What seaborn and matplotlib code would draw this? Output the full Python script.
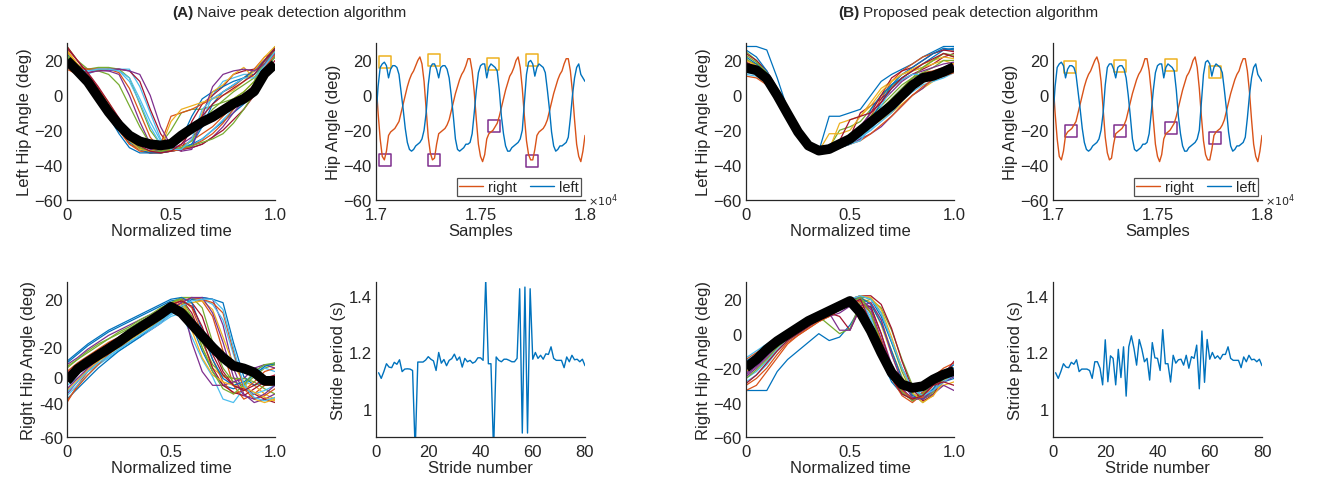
import numpy as np
import pandas as pd
import seaborn as sns
import matplotlib.pyplot as plt

# ---------------- data ----------------
# normalized time grid for the per-stride curves (21 points)
t_norm = np.linspace(0, 1, 21)

# (A) naive, left hip: stride curves + mean
naive_left = [
    [22, 16, 10, 2, -8, -18, -27, -31, -32, -32, -31, -30, -28, -25, -20, -15, -10, -5, 2, 15, 22],
    [25, 18, 10, 0, -10, -20, -28, -32, -33, -32, -31, -29, -26, -22, -18, -12, -6, 0, 6, 18, 26],
    [18, 14, 8, 0, -8, -16, -24, -30, -32, -32, -30, -26, -20, -15, -10, -6, -2, 2, 8, 20, 24],
    [20, 16, 15, 15, 14, 12, 0, -15, -28, -31, -32, -31, -30, -28, -24, -18, -10, -3, 4, 18, 27],
    [28, 20, 15, 16, 16, 15, 10, -5, -20, -28, -20, -10, -8, -8, -6, -4, -2, 2, 8, 20, 28],
    [16, 14, 12, 15, 15, 15, 15, 5, -10, -25, -30, -30, -28, -15, 0, 8, 10, 12, 12, 18, 22],
    [20, 15, 13, 14, 15, 15, 14, 8, -8, -22, -30, -32, -15, -5, 0, 5, 12, 14, 15, 20, 26],
    [24, 16, 8, -2, -12, -22, -30, -33, -33, -32, -30, -25, -12, -2, 2, 5, 8, 10, 12, 18, 25],
    [15, 12, 6, -2, -10, -20, -28, -31, -32, -28, -12, -10, -8, -5, -2, 2, 5, 10, 15, 22, 25],
    [26, 18, 12, 4, -4, -14, -24, -30, -33, -33, -32, -30, -26, -10, 2, 6, 12, 16, 10, 18, 24],
    [19, 14, 9, 2, -6, -14, -22, -28, -31, -32, -31, -28, -24, -18, -12, -8, -4, 0, 6, 16, 22],
    [22, 17, 15, 14, 12, 6, -6, -18, -28, -32, -32, -30, -26, -16, -8, -3, 2, 6, 10, 18, 25],
    [17, 15, 14, 15, 15, 14, 8, -4, -18, -28, -31, -31, -29, -25, -20, -14, -8, -2, 5, 15, 22],
    [27, 20, 12, 4, -6, -16, -25, -31, -33, -33, -32, -31, -30, -28, -24, -20, -14, -8, 0, 12, 20],
    [21, 15, 9, 1, -8, -17, -26, -31, -33, -33, -32, -31, -28, -18, -5, 2, 6, 10, 14, 20, 27],
    [18, 16, 15, 15, 15, 13, 4, -10, -24, -31, -32, -31, -29, -26, -22, -16, -8, -2, 6, 16, 23],
    [25, 17, 10, 2, -7, -17, -26, -31, -32, -30, -15, -8, -6, -4, -2, 0, 3, 8, 14, 22, 28],
    [16, 14, 13, 14, 14, 15, 14, 12, 0, -18, -29, -32, -31, -12, 5, 12, 14, 15, 14, 18, 24],
    [23, 17, 11, 3, -6, -15, -24, -30, -32, -32, -31, -30, -29, -27, -25, -22, -16, -8, 1, 14, 22],
    [19, 15, 14, 15, 15, 14, 10, -2, -15, -26, -31, -31, -25, -8, -2, 2, 6, 10, 10, 17, 25],
    [28, 20, 13, 5, -4, -13, -22, -29, -32, -33, -32, -28, -20, -12, -5, 0, 4, 8, 12, 20, 27],
]
naive_left_mean = [20, 14, 7.7, -1, -9.6, -17, -23, -26.4, -28, -28.7, -27.8, -23, -19,
                   -15.3, -12.4, -8.6, -4.8, -2, 2.3, 12.4, 18]

# (A) naive, right hip
naive_right = [
    [-17, -12, -7, -3, 1, 4, 7, 10, 13, 16, 19, 20, 5, -10, -22, -30, -32, -30, -22, -18, -18],
    [-40, -30, -22, -16, -10, -5, -1, 3, 7, 12, 17, 20, 20, 19, 10, -10, -30, -38, -35, -30, -30],
    [-25, -20, -16, -12, -8, -4, 0, 4, 8, 12, 16, 19, 8, -8, -20, -25, -26, -28, -30, -35, -38],
    [-35, -28, -20, -15, -11, -8, -5, -2, 2, 6, 12, 15, 20, 21, 20, 5, -20, -35, -40, -38, -35],
    [-20, -15, -10, -6, -3, 0, 3, 7, 10, 14, 18, 21, 21, 15, -5, -20, -28, -30, -25, -20, -18],
    [-30, -26, -22, -18, -14, -10, -6, -2, 2, 6, 10, 12, -2, -15, -25, -38, -40, -32, -22, -20, -22],
    [-28, -22, -17, -13, -9, -5, -1, 3, 7, 11, 15, 18, 18, 10, -8, -22, -30, -32, -35, -38, -40],
    [-38, -32, -26, -20, -15, -10, -6, -2, 3, 8, 12, 16, 20, 21, 20, 18, -5, -25, -30, -28, -25],
    [-22, -17, -13, -9, -5, -2, 2, 5, 9, 13, 17, 20, 15, 0, -15, -28, -35, -33, -28, -22, -20],
    [-33, -27, -21, -16, -12, -8, -4, 0, 4, 8, 13, 17, 18, 19, 14, -2, -18, -28, -38, -40, -38],
    [-18, -14, -9, -5, -1, 2, 5, 8, 11, 14, 17, 19, -5, -22, -30, -30, -28, -26, -20, -18, -20],
    [-26, -22, -18, -13, -9, -6, -3, 1, 5, 9, 13, 16, 10, -5, -18, -24, -26, -26, -28, -32, -35],
    [-36, -30, -24, -18, -13, -9, -5, -1, 3, 7, 11, 14, 21, 20, 17, 8, -12, -30, -35, -33, -30],
    [-24, -19, -14, -10, -6, -3, 1, 5, 8, 12, 16, 20, 12, -3, -20, -30, -34, -36, -32, -28, -26],
    [-16, -11, -6, -2, 2, 5, 8, 11, 14, 17, 20, 21, 18, 2, -15, -26, -30, -28, -24, -19, -17],
    [-39, -31, -24, -18, -12, -7, -3, 1, 5, 10, 14, 18, 21, 20, 18, 12, -10, -32, -38, -36, -32],
    [-27, -21, -16, -11, -7, -3, 1, 5, 9, 13, 17, 20, 2, -14, -24, -28, -30, -31, -34, -37, -39],
    [-32, -26, -20, -15, -11, -7, -3, 1, 5, 9, 14, 18, 21, 21, 12, -5, -25, -36, -38, -35, -30],
    [-19, -15, -11, -7, -3, 1, 4, 8, 11, 15, 18, 20, 10, -8, -22, -32, -35, -30, -22, -18, -17],
    [-34, -28, -22, -17, -13, -9, -5, -1, 3, 7, 12, 16, 19, 20, 20, 14, -8, -30, -37, -39, -37],
    [-23, -18, -14, -10, -6, -2, 2, 6, 10, 14, 17, 19, 16, 4, -12, -24, -30, -33, -30, -26, -24],
]
naive_right_mean = [-27.4, -20.6, -16.4, -12.5, -8.7, -4.8, -0.4, 3.5, 7.3, 11.2, 15.6, 12.1,
                    5.4, -1.3, -8, -13.9, -18.7, -20.2, -22.5, -27.4, -27.4]

# (B) proposed, left hip
prop_left = [
    [28, 28, 26, 10, -8, -22, -30, -32, -12, -12, -10, -8, 0, 8, 12, 15, 18, 22, 25, 28, 28],
    [20, 18, 12, 2, -8, -20, -28, -32, -31, -28, -25, -20, -12, -2, 8, 14, 18, 22, 24, 26, 26],
    [14, 13, 9, 0, -11, -22, -29, -32, -31, -28, -26, -22, -18, -14, -10, -5, 0, 4, 8, 12, 14],
    [17, 15, 10, 1, -10, -21, -29, -32, -30, -28, -25, -20, -15, -10, -6, -1, 5, 10, 13, 15, 17],
    [25, 20, 12, 2, -9, -20, -27, -31, -30, -20, -18, -15, -8, 0, 5, 10, 14, 16, 20, 24, 22],
    [12, 11, 7, -1, -12, -23, -30, -33, -31, -29, -27, -24, -20, -15, -10, -3, 2, 6, 8, 10, 13],
    [18, 16, 11, 1, -10, -21, -29, -32, -31, -29, -24, -10, -6, -2, 4, 9, 12, 15, 18, 22, 24],
    [22, 18, 13, 3, -8, -19, -28, -32, -32, -30, -28, -25, -8, 0, 6, 10, 14, 18, 22, 26, 27],
    [16, 14, 10, 0, -11, -22, -30, -33, -32, -30, -27, -22, -16, -8, -2, 4, 10, 13, 14, 16, 18],
    [15, 15, 12, 2, -8, -20, -28, -32, -22, -22, -20, -12, -4, 4, 8, 12, 14, 16, 18, 20, 18],
    [19, 16, 10, -1, -12, -23, -30, -33, -32, -30, -28, -25, -22, -18, -12, -6, 0, 4, 10, 14, 16],
    [21, 17, 11, 1, -10, -21, -29, -32, -31, -28, -24, -18, -12, -6, 0, 6, 10, 13, 16, 20, 20],
    [13, 12, 8, -1, -12, -22, -29, -32, -31, -30, -28, -24, -20, -12, -2, 4, 8, 10, 12, 14, 15],
    [24, 20, 14, 4, -7, -18, -27, -31, -31, -29, -25, -18, -10, 0, 10, 14, 16, 20, 24, 26, 25],
    [26, 22, 14, 3, -8, -19, -28, -32, -31, -29, -27, -22, -14, -4, 6, 12, 16, 20, 24, 27, 26],
    [11, 10, 6, -2, -13, -24, -30, -33, -32, -30, -28, -26, -22, -17, -12, -6, 0, 5, 9, 11, 13],
    [20, 17, 12, 2, -9, -20, -28, -32, -31, -16, -14, -12, -6, 2, 8, 12, 15, 18, 20, 22, 21],
    [17, 14, 9, 0, -11, -22, -29, -33, -32, -30, -26, -18, -10, -4, 2, 8, 12, 14, 16, 18, 19],
    [23, 19, 13, 3, -8, -19, -28, -32, -31, -29, -26, -20, -14, -8, -2, 4, 10, 16, 20, 24, 23],
    [14, 13, 9, 0, -11, -22, -29, -32, -32, -30, -28, -26, -18, -6, 4, 9, 12, 12, 13, 14, 15],
    [19, 16, 11, 1, -10, -21, -29, -32, -31, -26, -14, -12, -10, -4, 4, 10, 14, 18, 21, 24, 22],
]
prop_left_mean = [15.8, 14.4, 9.6, 0, -10.6, -21, -28.8, -31.7, -30.8, -27.9, -25, -20.2,
                  -15.4, -10.6, -5.8, 0, 5.8, 10, 11.2, 13.5, 16.3]

# (B) proposed, right hip
prop_right = [
    [-33, -33, -33, -22, -15, -10, -5, 0, -4, -2, 5, 15, 0, -15, -28, -35, -38, -34, -30, -28, -26],
    [-15, -11, -7, -3, 1, 4, 7, 10, 13, 17, 20, 22, 12, -5, -22, -33, -38, -34, -25, -20, -17],
    [-22, -18, -12, -6, -2, 2, 6, 9, 12, 15, 18, 20, 18, 8, -10, -25, -35, -38, -32, -25, -22],
    [-25, -20, -14, -8, -3, 1, 5, 8, 10, 12, 16, 20, 15, 0, -18, -32, -39, -36, -30, -26, -23],
    [-18, -14, -9, -5, -1, 3, 6, 9, 12, 15, 18, 21, 21, 12, -5, -22, -35, -40, -35, -28, -20],
    [-28, -24, -18, -10, -4, 0, 4, 8, 11, 14, 17, 20, 8, -10, -25, -35, -36, -33, -30, -27, -25],
    [-20, -16, -10, -5, -1, 3, 7, 10, 12, 10, 2, 15, 16, 0, -20, -32, -38, -35, -28, -24, -21],
    [-16, -12, -8, -4, 0, 4, 8, 11, 14, 17, 20, 22, 20, 10, -5, -20, -32, -36, -30, -22, -18],
    [-30, -26, -20, -12, -5, -1, 3, 7, 10, 14, 17, 18, 2, -12, -26, -36, -40, -35, -26, -22, -20],
    [-21, -17, -11, -6, -2, 2, 6, 9, 13, 16, 19, 21, 18, 5, -12, -28, -36, -37, -33, -30, -28],
    [-24, -19, -13, -7, -3, 1, 5, 8, 11, 14, 17, 20, 14, -3, -20, -32, -38, -38, -35, -30, -33],
    [-19, -15, -10, -5, -1, 3, 7, 10, 5, 0, 3, 18, 20, 15, 2, -15, -30, -38, -34, -26, -22],
    [-26, -22, -16, -9, -4, 0, 4, 8, 11, 14, 17, 19, 10, -6, -24, -34, -38, -37, -32, -28, -24],
    [-17, -13, -8, -4, 0, 4, 7, 11, 14, 17, 19, 22, 22, 17, 3, -16, -32, -39, -36, -24, -16],
    [-20, -16, -10, -5, -1, 3, 7, 10, 13, 16, 19, 21, 17, 6, -10, -26, -36, -38, -32, -24, -20],
    [-33, -30, -22, -14, -6, -1, 3, 7, 10, 14, 17, 19, 12, -4, -22, -33, -38, -37, -30, -26, -22],
    [-17, -13, -8, -4, 0, 4, 7, 11, 14, 17, 20, 22, 21, 14, -2, -20, -34, -40, -36, -28, -22],
    [-23, -18, -12, -6, -2, 2, 6, 9, 12, 2, 2, 16, 18, 8, -12, -28, -37, -38, -33, -28, -25],
    [-26, -21, -15, -8, -3, 1, 5, 8, 11, 14, 18, 21, 12, -6, -23, -34, -39, -35, -28, -24, -22],
    [-14, -10, -6, -2, 2, 5, 8, 11, 14, 17, 20, 22, 20, 12, -4, -20, -32, -36, -33, -28, -24],
    [-29, -24, -17, -10, -4, 0, 4, 8, 11, 14, 17, 20, 6, -12, -26, -35, -38, -36, -30, -28, -30],
]
prop_right_mean = [-19.8, -15, -9.1, -4.3, -0.4, 3.5, 7.4, 10.3, 13.2, 16.1, 19, 12.2, 1.6,
                   -11.1, -22.7, -29.5, -31.5, -30.5, -26.6, -23.7, -21.7]

# raw hip angle signals, one value every 10 samples from 17000 to 18000
samples = np.arange(17000, 18001, 10)
right_hip = [9, -10, -25, -35, -37, -32, -23, -21, -20, -19,
             -17, -15, -10, -5, 0, 5, 9, 12, 14, 17,
             20, 22, 18, 8, -8, -24, -33, -37, -36, -28,
             -22, -21, -20, -19, -17, -14, -9, -4, 1, 5,
             9, 12, 14, 17, 21, 21, 14, 2, -14, -28,
             -35, -38, -34, -25, -22, -21, -20, -18, -16, -12,
             -7, -2, 3, 7, 11, 13, 16, 20, 22, 16,
             4, -12, -26, -34, -37, -37, -31, -23, -21, -20,
             -19, -17, -14, -9, -4, 1, 5, 9, 12, 14,
             18, 21, 21, 14, 2, -14, -28, -35, -38, -32,
             -23]
left_hip = [-12, 5, 16, 18, 19, 17, 10, 15, 17, 17,
            16, 12, 2, -8, -19, -27, -31, -32, -31, -29,
            -28, -27, -25, -20, -10, 6, 16, 18, 18, 15,
            10, 16, 17, 17, 15, 10, 0, -12, -25, -31,
            -32, -31, -30, -28, -28, -27, -22, -10, 3, 13,
            17, 18, 18, 10, 16, 18, 17, 16, 14, 3,
            -12, -22, -29, -32, -32, -30, -29, -28, -27, -25,
            -20, -4, 12, 19, 20, 18, 11, 16, 18, 17,
            16, 13, 3, -8, -21, -29, -32, -31, -29, -29,
            -28, -27, -24, -13, 0, 10, 16, 18, 12, 10,
            8]

# detected peaks (yellow) and valleys (purple)
naive_peak_x = [17042, 17278, 17562, 17746]
naive_peak_y = [19, 20, 18, 20]
naive_valley_x = [17043, 17278, 17565, 17747]
naive_valley_y = [-37, -37, -17.5, -37.7]
prop_peak_x = [17083, 17319, 17563, 17777]
prop_peak_y = [16, 17, 17.5, 13.3]
prop_valley_x = [17085, 17319, 17563, 17777]
prop_valley_y = [-20.6, -20.4, -18.6, -24.4]

# stride periods (s), strides 1..80
stride_num = np.arange(1, 81)
naive_period = [1.128, 1.108, 1.132, 1.16, 1.148, 1.146, 1.165, 1.158, 1.174, 1.132,
                1.141, 1.142, 1.141, 1.136, 0.85, 1.166, 1.166, 1.166, 1.173, 1.185,
                1.176, 1.17, 1.136, 1.2, 1.162, 1.175, 1.153, 1.172, 1.178, 1.194,
                1.172, 1.184, 1.148, 1.179, 1.167, 1.172, 1.162, 1.167, 1.181, 1.181,
                1.172, 1.46, 1.16, 1.16, 0.85, 1.184, 1.172, 1.167, 1.176, 1.176,
                1.172, 1.167, 1.167, 1.179, 1.426, 0.914, 1.432, 0.914, 1.426, 1.176,
                1.2, 1.179, 1.19, 1.176, 1.195, 1.193, 1.22, 1.179, 1.172, 1.172,
                1.172, 1.146, 1.184, 1.167, 1.19, 1.174, 1.176, 1.167, 1.176, 1.153]
prop_period = [1.128, 1.108, 1.132, 1.16, 1.148, 1.146, 1.165, 1.158, 1.174, 1.132,
               1.141, 1.141, 1.141, 1.136, 1.108, 1.167, 1.167, 1.144, 1.085, 1.245,
               1.096, 1.188, 1.179, 1.085, 1.211, 1.111, 1.22, 1.045, 1.22, 1.259,
               1.214, 1.155, 1.246, 1.212, 1.167, 1.179, 1.102, 1.235, 1.181, 1.179,
               1.136, 1.281, 1.16, 1.16, 1.095, 1.19, 1.162, 1.174, 1.176, 1.155,
               1.19, 1.144, 1.185, 1.179, 1.226, 1.071, 1.276, 1.094, 1.246, 1.176,
               1.2, 1.179, 1.188, 1.176, 1.193, 1.193, 1.22, 1.179, 1.172, 1.172,
               1.172, 1.146, 1.184, 1.167, 1.19, 1.174, 1.176, 1.167, 1.176, 1.153]

# ---------------- styling ----------------
matlab_colors = ['#0072BD', '#D95319', '#EDB120', '#7E2F8E', '#77AC30', '#4DBEEE', '#A2142F']
ink = '#262626'

sns.set_style("white")
plt.rcParams['font.family'] = ['Liberation Sans', 'DejaVu Sans']
plt.rcParams['xtick.direction'] = 'in'
plt.rcParams['ytick.direction'] = 'in'
plt.rcParams['axes.edgecolor'] = ink
plt.rcParams['text.color'] = ink

W, H = 1317, 489
fig = plt.figure(figsize=(W / 100, H / 100), dpi=100)


def add_ax(x0, y_top, x1, y_bot):
    return fig.add_axes([x0 / W, 1 - y_bot / H, (x1 - x0) / W, (y_bot - y_top) / H])


def style_ax(ax, xlabel, ylabel):
    sns.despine(ax=ax)
    ax.set_xlabel(xlabel, fontsize=12, color=ink, labelpad=1)
    ax.set_ylabel(ylabel, fontsize=12, color=ink, labelpad=2)
    ax.tick_params(labelsize=12, colors=ink, length=3, width=0.8)
    ax.tick_params(axis='x', pad=5)
    ax.tick_params(axis='y', pad=3)
    for s in ax.spines.values():
        s.set_linewidth(0.9)


def stride_panel(ax, curves, mean, ylabel):
    for i, c in enumerate(curves):
        sns.lineplot(x=t_norm, y=c, ax=ax, color=matlab_colors[i % 7], linewidth=0.9)
    sns.lineplot(x=t_norm, y=mean, ax=ax, color='black', linewidth=7, solid_capstyle='butt')
    ax.set_xlim(0, 1)
    ax.set_ylim(-60, 30)
    ax.set_xticks([0, 0.5, 1.0])
    ax.set_xticklabels(['0', '0.5', '1.0'])
    ax.set_yticks([-60, -40, -20, 0, 20])
    style_ax(ax, 'Normalized time', ylabel)


def signal_panel(ax, px, py, vx, vy):
    df = pd.DataFrame({'sample': np.concatenate([samples, samples]),
                       'angle': right_hip + left_hip,
                       'side': ['right'] * len(samples) + ['left'] * len(samples)})
    sns.lineplot(data=df, x='sample', y='angle', hue='side', ax=ax,
                 palette={'right': '#D95319', 'left': '#0072BD'}, linewidth=1.0, legend=False)
    sns.scatterplot(x=px, y=py, ax=ax, marker='s', s=75, facecolor='none',
                    edgecolor='#EDB120', linewidth=1.1)
    sns.scatterplot(x=vx, y=vy, ax=ax, marker='s', s=75, facecolor='none',
                    edgecolor='#7E2F8E', linewidth=1.1)
    ax.set_xlim(17000, 18000)
    ax.set_ylim(-60, 30)
    ax.set_xticks([17000, 17500, 18000])
    ax.set_xticklabels(['1.7', '1.75', '1.8'])
    ax.set_yticks([-60, -40, -20, 0, 20])
    style_ax(ax, 'Samples', 'Hip Angle (deg)')
    ax.text(1.015, 0.0, r'$\times10^4$', transform=ax.transAxes, fontsize=8,
            color=ink, ha='left', va='center')
    handles = [plt.Line2D([], [], color='#D95319', lw=1.0),
               plt.Line2D([], [], color='#0072BD', lw=1.0)]
    leg = ax.legend(handles, ['right', 'left'], ncol=2, loc='lower right', fontsize=10.5,
                    frameon=True, fancybox=False, edgecolor=ink, borderaxespad=0.25,
                    borderpad=0.15, handlelength=1.6, columnspacing=0.9, handletextpad=0.4)
    leg.get_frame().set_linewidth(0.9)


def period_panel(ax, vals):
    sns.lineplot(x=stride_num, y=vals, ax=ax, color='#0072BD', linewidth=1.0)
    ax.set_xlim(0, 80)
    ax.set_ylim(0.9, 1.45)
    ax.set_xticks([0, 20, 40, 60, 80])
    ax.set_yticks([1.0, 1.2, 1.4])
    ax.set_yticklabels(['1', '1.2', '1.4'])
    style_ax(ax, 'Stride number', 'Stride period (s)')


cols = [(67, 275), (376, 585), (746, 954), (1053, 1262)]
top_row = (44, 201)
bot_row = (283, 438)

ax_a1 = add_ax(cols[0][0], top_row[0], cols[0][1], top_row[1])
ax_a2 = add_ax(cols[1][0], top_row[0], cols[1][1], top_row[1])
ax_a3 = add_ax(cols[0][0], bot_row[0], cols[0][1], bot_row[1])
ax_a4 = add_ax(cols[1][0], bot_row[0], cols[1][1], bot_row[1])
ax_b1 = add_ax(cols[2][0], top_row[0], cols[2][1], top_row[1])
ax_b2 = add_ax(cols[3][0], top_row[0], cols[3][1], top_row[1])
ax_b3 = add_ax(cols[2][0], bot_row[0], cols[2][1], bot_row[1])
ax_b4 = add_ax(cols[3][0], bot_row[0], cols[3][1], bot_row[1])

stride_panel(ax_a1, naive_left, naive_left_mean, 'Left Hip Angle (deg)')
signal_panel(ax_a2, naive_peak_x, naive_peak_y, naive_valley_x, naive_valley_y)
stride_panel(ax_a3, naive_right, naive_right_mean, 'Right Hip Angle (deg)')
period_panel(ax_a4, naive_period)
stride_panel(ax_b1, prop_left, prop_left_mean, 'Left Hip Angle (deg)')
signal_panel(ax_b2, prop_peak_x, prop_peak_y, prop_valley_x, prop_valley_y)
stride_panel(ax_b3, prop_right, prop_right_mean, 'Right Hip Angle (deg)')
period_panel(ax_b4, prop_period)

# the naive right-hip panel carries shifted tick labels in the original figure
ax_a3.set_yticks([-60, -40, -25, -8, 0, 20])
ax_a3.set_yticklabels(['-60', '-40', '0', '-20', '', '20'])
for tk in ax_a3.yaxis.get_major_ticks()[2:4]:
    tk.tick1line.set_visible(False)

# panel titles: bold letter followed by normal text
fig.canvas.draw()
renderer = fig.canvas.get_renderer()
for x0, letter, rest in [(172, '(A)', 'Naive peak detection algorithm'),
                         (838, '(B)', 'Proposed peak detection algorithm')]:
    t1 = fig.text(x0 / W, 1 - 13 / H, letter, fontsize=11, weight='bold', va='center', ha='left')
    bb = t1.get_window_extent(renderer)
    fig.text((bb.x1 + 4) / W, 1 - 13 / H, rest, fontsize=11, va='center', ha='left')

fig.savefig('out.png', dpi=100)
